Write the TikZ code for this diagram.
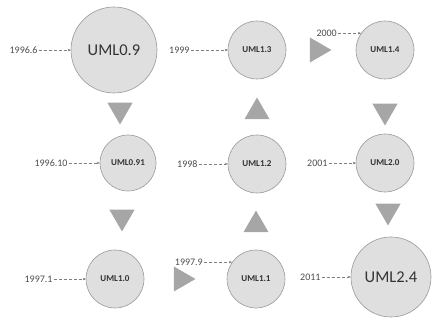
\documentclass[tikz,border=0pt]{standalone}
\usepackage{fontspec}
\setmainfont{Carlito}
\usepackage{tikz}
\usetikzlibrary{shapes.geometric, arrows.meta, positioning}

\begin{document}
\begin{tikzpicture}[
  x=1pt, y=1pt,
  >={Stealth[length=3pt, width=2.5pt]},
  every node/.style={font=\small},
  ver/.style={circle, draw=gray!80, fill=gray!25, line width=0.6pt, inner sep=0pt, minimum size=58pt, text=black!80, font=\fontsize{9}{10}\selectfont\bfseries},
  bigver/.style={ver, minimum size=86pt, font=\fontsize{16.5}{18}\selectfont},
  year/.style={inner sep=1pt, text=black!70, font=\fontsize{10}{12}\selectfont},
  tri/.style={regular polygon, regular polygon sides=3, fill=gray!70, draw=none, inner sep=0pt, minimum size=29pt},
  link/.style={->, densely dashed, gray, line width=0.4pt}
]
\useasboundingbox (0,0) rectangle (432,321);

% versions
\node[bigver] (uml09) at (114,271) {UML0.9};
\node[ver, minimum size=56pt] (uml091) at (128,158) {UML0.91};
\node[ver] (uml10) at (115,42) {UML1.0};
\node[ver] (uml11) at (256,42) {UML1.1};
\node[ver] (uml12) at (257,157) {UML1.2};
\node[ver] (uml13) at (257,271) {UML1.3};
\node[ver] (uml14) at (385,271) {UML1.4};
\node[ver] (uml20) at (385,158) {UML2.0};
\node[bigver, minimum size=80pt] (uml24) at (391,44) {UML2.4};

% triangles
\node[tri, shape border rotate=180] (t1) at (120,211) {};
\node[tri, shape border rotate=180] (t2) at (122,104) {};
\node[tri, shape border rotate=-90] (t3) at (181,42) {};
\node[tri] (t4) at (256,96) {};
\node[tri] (t5) at (257,209) {};
\node[tri, shape border rotate=-90] (t6) at (317,271) {};
\node[tri, shape border rotate=180] (t7) at (385,210) {};
\node[tri, shape border rotate=180] (t8) at (388,110) {};

% years
\node[year, left=32pt of uml09.west] (y09) {1996.6};
\node[year, left=31pt of uml091.west] (y091) {1996.10};
\node[year, left=32pt of uml10.west] (y10) {1997.1};
\node[year, left=28pt of uml11.145] (y11) {1997.9};
\node[year, left=29pt of uml12.west] (y12) {1998};
\node[year, left=37pt of uml13.west] (y13) {1999};
\node[year, left=23pt of uml14.145] (y14) {2000};
\node[year, left=27pt of uml20.west] (y20) {2001};
\node[year, left=29pt of uml24.west] (y24) {2011};

\draw[link] (y09) -- (uml09);
\draw[link] (y091) -- (uml091);
\draw[link] (y10) -- (uml10);
\draw[link] (y11) -- (uml11.145);
\draw[link] (y12) -- (uml12);
\draw[link] (y13) -- (uml13);
\draw[link] (y14) -- (uml14.145);
\draw[link] (y20) -- (uml20);
\draw[link] (y24) -- (uml24);

\end{tikzpicture}
\end{document}
